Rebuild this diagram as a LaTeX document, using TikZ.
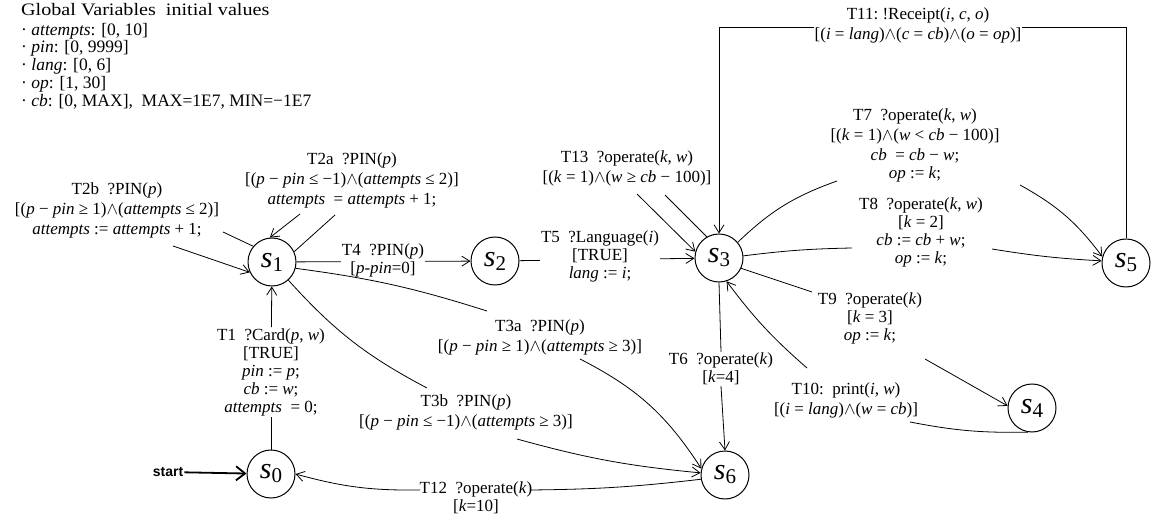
\documentclass[tikz,border=0pt]{standalone}
\usepackage{fontspec}
\setmainfont{Liberation Serif}
\newfontfamily\sansf{Liberation Sans}
\usetikzlibrary{arrows.meta}
\newcommand{\vi}[1]{\textit{#1}}
\newcommand{\aand}{$\wedge$}
\newcommand{\stl}[1]{{\fontsize{30}{30}\selectfont\textit{s}}\raisebox{-4pt}{\fontsize{21}{21}\selectfont #1}}
\begin{document}
\begin{tikzpicture}[x=1pt,y=-1pt,
  font=\fontsize{17}{18}\selectfont,
  st/.style={circle, draw, line width=1pt, minimum size=48pt, inner sep=0pt},
  lbl/.style={align=center, inner sep=1pt},
  lblw/.style={lbl, fill=white},
  ed/.style={line width=0.8pt},
  ar/.style={ed, -{Straight Barb[length=8pt,width=10pt]}},
]
\useasboundingbox (0,0) rectangle (1151,518);

% states
\node[st] (s0) at (271,474) {\stl{0}};
\node[st] (s1) at (272,262) {\stl{1}};
\node[st] (s2) at (495,261) {\stl{2}};
\node[st] (s3) at (719,258) {\stl{3}};
\node[st] (s4) at (1032,408) {\stl{4}};
\node[st] (s5) at (1126,263) {\stl{5}};
\node[st] (s6) at (725,475) {\stl{6}};

% global variables
\node[anchor=north west, align=left, inner sep=0pt, font=\fontsize{17.5}{17.8}\selectfont] (gv) at (21,3)
 {\scalebox{1.15}[1]{Global Variables\ \ initial values}\\[2pt]
  \textperiodcentered\ \vi{attempts}: [0, 10]\\
  \textperiodcentered\ \vi{pin}: [0, 9999]\\
  \textperiodcentered\ \vi{lang}: [0, 6]\\
  \textperiodcentered\ \vi{op}: [1, 30]\\
  \textperiodcentered\ \vi{cb}: [0, MAX],\ \ MAX=1E7, MIN=−1E7};

% start
\node[font=\sansf\bfseries\fontsize{14}{14}\selectfont, inner sep=1pt] (start) at (168,472) {start};
\draw[line width=1.8pt, -{Straight Barb[length=9pt,width=14pt]}] (start) -- (s0);

% T1
\node[lbl] (t1) at (271,372) {T1\ \ ?Card(\vi{p}, \vi{w})\\{}[TRUE]\\\vi{pin} := \vi{p};\\\vi{cb} := \vi{w};\\\vi{attempts}\ \ = 0;};
\draw[ed] (s0) -- (t1);
\draw[ar] (t1) -- (s1);

% T2b
\node[lbl] (t2b) at (117,210) {T2b\ \ ?PIN(\vi{p})\\[2pt]{}[(\vi{p} − \vi{pin} ≥ 1)\aand(\vi{attempts} ≤ 2)]\\[2pt]\vi{attempts} := \vi{attempts} + 1;};
\coordinate (t2bo) at (223,232);
\coordinate (t2bi) at (173,246);
\draw[ed] (s1.140) -- (t2bo);
\draw[ar] (t2bi) -- (s1.205);

% T2a
\node[lbl] (t2a) at (352,180) {T2a\ \ ?PIN(\vi{p})\\[2pt]{}[(\vi{p} − \vi{pin} ≤ −1)\aand(\vi{attempts} ≤ 2)]\\[2pt]\vi{attempts}\ \ = \vi{attempts} + 1;};
\coordinate (t2ao) at (335,215);
\coordinate (t2ai) at (300,214);
\draw[ed] (s1.25) -- (t2ao);
\draw[ar] (t2ai) -- (s1.95);

% T4
\draw[ar] (s1) -- (s2);
\node[lblw] (t4) at (383,260) {T4\ \ ?PIN(\vi{p})\\{}[\vi{p}-\vi{pin}=0]};

% T5
\draw[ar] (s2) -- (s3);
\node[lblw] (t5) at (600,256) {T5\ \ ?Language(\vi{i})\\{}[TRUE]\\\vi{lang} := \vi{i};};

% T13
\node[lbl] (t13) at (627,168) {T13\ \ ?operate(\vi{k}, \vi{w})\\[2pt]{}[(\vi{k} = 1)\aand(\vi{w} ≥ \vi{cb} − 100)]};
\coordinate (t13i) at (637,194);
\coordinate (t13o) at (665,195);
\draw[ar] (t13i) -- (s3.165);
\draw[ed] (s3.120) -- (t13o);

% T11
\coordinate (c5) at (1126,27);
\coordinate (c3) at (719,27);
\draw[ar] (s5.north) -- (c5) -- (c3) -- (s3.north);
\node[lblw] (t11) at (918,25) {T11:\ !Receipt(\vi{i}, \vi{c}, \vi{o})\\[2pt]{}[(\vi{i} = \vi{lang})\aand(\vi{c} = \vi{cb})\aand(\vi{o} = \vi{op})]};

% T7
\node[lbl] (t7) at (915,145) {T7\ \ ?operate(\vi{k}, \vi{w})\\[2pt]{}[(\vi{k} = 1)\aand(\vi{w} < \vi{cb} − 100)]\\[2pt]\vi{cb}\ \ = \vi{cb} − \vi{w};\\\vi{op} := \vi{k};};
\coordinate (t7o) at (837,181);
\coordinate (t7i) at (1020,185);
\draw[ed] (s3.40) to[bend left=12] (t7o);
\draw[ar] (t7i) to[bend left=12] (s5.165);

% T8
\node[lbl] (t8) at (921,232) {T8\ \ ?operate(\vi{k}, \vi{w})\\{}[\vi{k} = 2]\\\vi{cb} := \vi{cb} + \vi{w};\\\vi{op} := \vi{k};};
\coordinate (t8o) at (852,248);
\coordinate (t8i) at (992,249);
\draw[ed] (s3.5) to[bend left=3] (t8o);
\draw[ar] (t8i) to[bend right=3] (s5.175);

% T9
\node[lbl] (t9) at (870,318) {T9\ \ ?operate(\vi{k})\\{}[\vi{k} = 3]\\\vi{op} := \vi{k};};
\coordinate (t9o) at (812,292);
\coordinate (t9i) at (925,359);
\draw[ed] (s3.-25) -- (t9o);
\draw[ar] (t9i) -- (s4.175);

% T10
\node[lbl] (t10) at (846,400) {T10:\ \ print(\vi{i}, \vi{w})\\[2pt]{}[(\vi{i} = \vi{lang})\aand(\vi{w} = \vi{cb})]};
\coordinate (t10o) at (910,422);
\coordinate (t10i) at (807,368);
\draw[ed] (s4.-100) to[bend left=6] (t10o);
\draw[ar] (t10i) to[bend left=6] (s3.-72);

% T6
\node[lbl] (t6) at (721,369) {T6\ \ ?operate(\vi{k})\\{}[\vi{k}=4]};
\draw[ed] (s3.south) -- (t6.north);
\draw[ar] (t6.south) -- (s6.north);

% T3a
\node[lbl] (t3a) at (540,337) {T3a\ \ ?PIN(\vi{p})\\[2pt]{}[(\vi{p} − \vi{pin} ≥ 1)\aand(\vi{attempts} ≥ 3)]};
\coordinate (t3ao) at (487,311);
\coordinate (t3ai) at (580,359);
\draw[ed] (s1.-15) to[bend left=5] (t3ao);
\draw[ar] (t3ai) to[bend left=15] (s6.165);

% T3b
\node[lbl] (t3b) at (466,412) {T3b\ \ ?PIN(\vi{p})\\[2pt]{}[(\vi{p} − \vi{pin} ≤ −1)\aand(\vi{attempts} ≥ 3)]};
\coordinate (t3bo) at (427,388);
\coordinate (t3bi) at (517,439);
\draw[ed] (s1.-48) to[bend right=10] (t3bo);
\draw[ar] (t3bi) to[bend right=5] (s6.175);

% T12
\node[lbl] (t12) at (476,498) {T12\ \ ?operate(\vi{k})\\{}[\vi{k}=10]};
\coordinate (t12o) at (530,490);
\coordinate (t12i) at (420,490);
\draw[ed] (s6.190) to[bend left=3] (t12o);
\draw[ar] (t12i) to[bend left=8] (s0.east);
\end{tikzpicture}
\end{document}
